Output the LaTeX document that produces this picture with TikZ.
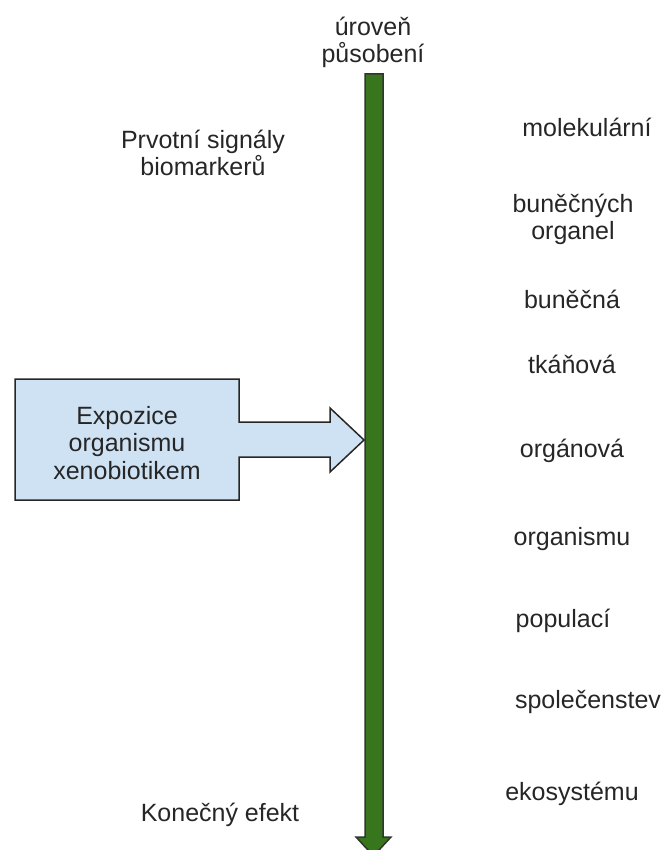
\documentclass[tikz,border=0pt]{standalone}
\usepackage{fontspec}
\setmainfont{Liberation Sans}
\definecolor{levelgreen}{HTML}{38761D}
\definecolor{expoblue}{HTML}{CFE2F3}
\tikzset{
  txt/.style={font=\fontsize{25}{27.5}\selectfont, text=black!85, align=center, inner sep=0pt, anchor=base}
}

\begin{document}
\begin{tikzpicture}[x=1pt,y=-1pt]
       \useasboundingbox (0,0) rectangle (664,850);
       \draw[fill=levelgreen, draw=black!80, line width=1.5pt] (365,74) coordinate (top) -- (383,74) -- (383,837) -- (391,837)
         -- (373.5,856) coordinate (bottom) -- (356,837) -- (365,837) -- cycle;
       \draw[fill=expoblue, draw=black!85, line width=1.5pt] (15,379) -- (239,379) -- (239,422) -- (330,422) -- (330,408)
         -- (364,440) coordinate (hit) -- (330,472) -- (330,457) -- (239,457) -- (239,500) -- (15,500) -- cycle;
       \node[txt] (level) at (373,63) {úroveň\\působení};
       \node[txt] (signal) at (203,176) {Prvotní signály\\biomarkerů};
       \node[txt] (expo) at (127,479) {Expozice\\organismu\\xenobiotikem};
       \node[txt] (effect) at (220,821) {Konečný efekt};
       \foreach \name/\x/\y/\lbl in {mol/587/137/molekulární, org/573/240/{buněčných\\organel}, cell/572/308/buněčná,
         tis/572/373/tkáňová, organ/572/457/orgánová, body/572/545/organismu, pop/563/627/populací,
         comm/588/708/společenstev, eco/572/800/ekosystému}
       {
         \node[txt] (\name) at (\x,\y) {\lbl};
       }
     \end{tikzpicture}
\end{document}
